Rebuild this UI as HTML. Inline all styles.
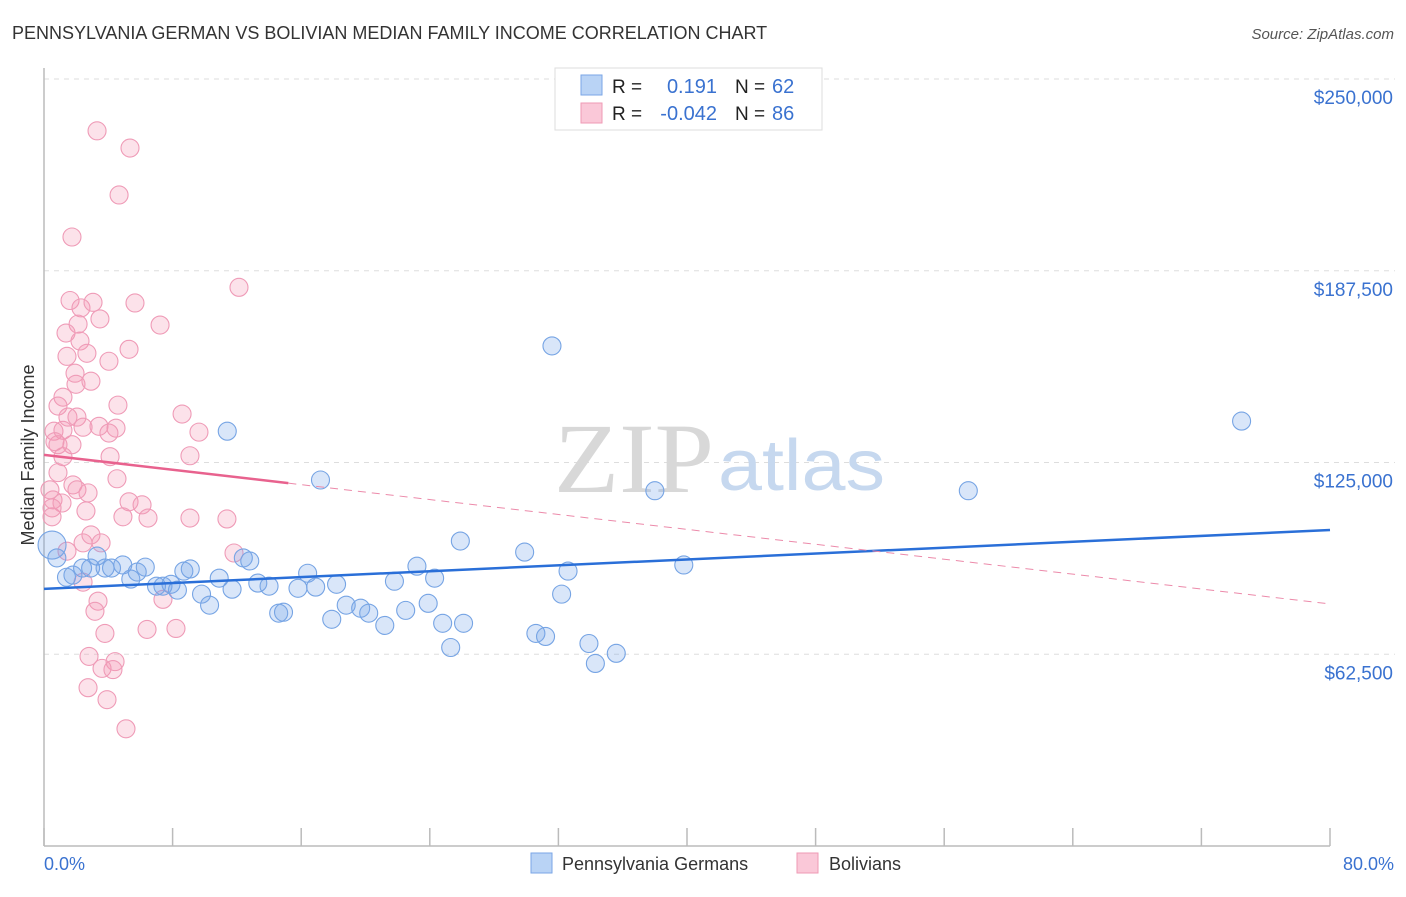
<!DOCTYPE html>
<html><head><meta charset="utf-8"><style>
body{margin:0;background:#fff;font-family:"Liberation Sans",sans-serif;}
</style></head><body>
<svg id="chart" width="1406" height="892" xmlns="http://www.w3.org/2000/svg">
<text x="12" y="39" font-size="18" fill="#333">PENNSYLVANIA GERMAN VS BOLIVIAN MEDIAN FAMILY INCOME CORRELATION CHART</text>
<text x="1394" y="39" font-size="15" fill="#555" font-style="italic" text-anchor="end">Source: ZipAtlas.com</text>
<g id="grid"></g>
<line x1="44" y1="68" x2="44" y2="846" stroke="#bbb" stroke-width="1.5"/>
<line x1="44" y1="846" x2="1330" y2="846" stroke="#bbb" stroke-width="1.5"/>
<text x="554" y="492" font-size="100" fill="#d8d8d8" font-family="Liberation Serif,serif" textLength="160" lengthAdjust="spacingAndGlyphs">ZIP</text>
<text x="718" y="490" font-size="72" fill="#c6d8ef" textLength="167" lengthAdjust="spacingAndGlyphs">atlas</text>
<g id="marks"></g>
<text x="34" y="455" font-size="18" fill="#333" text-anchor="middle" transform="rotate(-90 34 455)">Median Family Income</text>
<text x="44" y="870" font-size="18" fill="#3a72d0">0.0%</text>
<text x="1394" y="870" font-size="18" fill="#3a72d0" text-anchor="end">80.0%</text>
<g>
<rect x="555" y="68" width="267" height="62" fill="#fff" stroke="#ddd"/>
<rect x="581" y="75" width="21" height="20" fill="#b9d3f5" stroke="#7aa6e6"/>
<rect x="581" y="103" width="21" height="20" fill="#fac8d8" stroke="#ef9ab5"/>
<text x="612" y="93" font-size="19" fill="#222">R =</text>
<text x="717" y="93" font-size="20" fill="#3a72d0" text-anchor="end">0.191</text>
<text x="735" y="93" font-size="19" fill="#222">N =</text>
<text x="772" y="93" font-size="20" fill="#3a72d0">62</text>
<text x="612" y="120" font-size="19" fill="#222">R =</text>
<text x="717" y="120" font-size="20" fill="#3a72d0" text-anchor="end">-0.042</text>
<text x="735" y="120" font-size="19" fill="#222">N =</text>
<text x="772" y="120" font-size="20" fill="#3a72d0">86</text>
</g>
<g>
<rect x="531" y="853" width="21" height="20" fill="#b9d3f5" stroke="#7aa6e6"/>
<text x="562" y="870" font-size="18" fill="#333">Pennsylvania Germans</text>
<rect x="797" y="853" width="21" height="20" fill="#fac8d8" stroke="#ef9ab5"/>
<text x="829" y="870" font-size="18" fill="#333">Bolivians</text>
</g>
</svg>
<script>
const yTicks=[62500,125000,187500,250000];
const yTickLabels=["$62,500","$125,000","$187,500","$250,000"];
const xTicks=[0,8,16,24,32,40,48,56,64,72,80];
const blueX=[0.5,0.8,1.4,1.8,2.4,2.9,3.3,3.8,4.2,4.9,5.4,5.8,6.3,7.0,7.4,7.9,8.3,8.7,9.1,9.8,10.3,10.9,11.4,11.7,12.4,12.8,13.3,14.0,14.6,14.9,15.8,16.4,16.9,17.2,17.9,18.2,18.8,19.7,20.2,21.2,21.8,22.5,23.2,23.9,24.3,24.8,25.3,25.9,26.1,29.9,30.6,31.2,31.6,32.2,32.6,33.9,34.3,35.6,38.0,39.8,57.5,74.5];
const blueY=[98.1,93.9,87.6,88.3,90.6,90.6,94.5,90.6,90.6,91.6,87.0,89.3,90.9,84.7,84.7,85.3,83.4,89.6,90.3,82.1,78.5,87.3,135.2,83.7,93.9,92.9,85.7,84.7,75.9,76.2,84.0,88.9,84.4,119.3,73.9,85.3,78.5,77.5,75.9,71.9,86.3,76.8,91.2,79.1,87.3,72.6,64.7,99.4,72.6,95.8,69.3,68.3,163.0,82.1,89.6,66.0,59.5,62.8,115.8,91.6,115.8,138.5];
const pinkX=[3.3,5.35,4.67,1.74,12.13,1.62,2.30,3.05,3.48,2.12,1.37,2.24,1.43,2.67,4.04,5.29,5.66,7.22,1.93,1.99,2.92,1.18,0.87,4.60,8.59,1.49,2.05,2.43,3.42,4.48,9.64,0.62,1.18,4.04,0.68,0.87,1.74,1.18,4.11,9.08,0.87,4.54,0.37,1.80,2.05,2.74,0.56,1.12,0.50,0.50,2.61,5.29,6.10,4.91,6.47,9.08,11.38,1.43,2.43,2.92,3.55,11.82,2.43,7.40,3.36,3.17,3.79,6.41,8.21,2.80,4.42,3.61,4.29,2.74,3.92,5.10];
const pinkY=[233.1,227.5,212.2,198.5,182.1,177.8,175.4,177.2,171.8,170.1,167.2,164.6,159.6,160.6,158.0,161.9,177.0,169.8,154.1,150.5,151.5,146.3,143.4,143.7,140.8,139.8,139.8,136.5,136.8,136.2,134.9,135.2,135.5,134.6,131.8,130.8,130.8,126.9,126.9,127.2,121.7,119.7,116.1,117.7,116.1,115.1,112.8,111.8,110.2,107.3,109.2,112.2,111.2,107.3,106.9,106.9,106.6,96.1,98.8,101.4,98.8,95.5,86.0,80.4,79.8,76.5,69.3,70.6,70.9,61.8,60.1,57.9,57.5,51.6,47.7,38.2];
const blueTrend=[83.8,103.0];
const pinkTrend=[127.5,78.9];
const pinkSolidEnd=15.2;
const NS="http://www.w3.org/2000/svg";
const sx=v=>44+v/80*1286;
const sy=v=>846-v/250*767;
const grid=document.getElementById('grid'),marks=document.getElementById('marks');
function mk(tag,attrs,parent){const e=document.createElementNS(NS,tag);for(const k in attrs)e.setAttribute(k,attrs[k]);parent.appendChild(e);return e;}
yTicks.forEach((t,i)=>{
 const y=sy(t/1000);
 const l=mk('line',{x1:44,x2:1395,y1:y,y2:y,stroke:'#ddd','stroke-dasharray':'5,5'},grid);
 
 
 const tx=mk('text',{x:1393,y:y+25,'font-size':19,fill:'#3a72d0','text-anchor':'end'},grid);
 tx.textContent=yTickLabels[i];
 
 
});
xTicks.forEach(t=>{
 const x=sx(t);
 const l=mk('line',{x1:x,x2:x,y1:828,y2:846,stroke:'#bbb','stroke-width':1.5},grid);
 
 
});
pinkX.forEach((x,i)=>{
 const c=mk('circle',{cx:sx(x),cy:sy(pinkY[i]),r:9,fill:'rgba(244,150,180,0.28)',stroke:'#ef9bb7','stroke-width':1.1},marks);
 
 
});
blueX.forEach((x,i)=>{
 const c=mk('circle',{cx:sx(x),cy:sy(blueY[i]),r:i===0?14:9,fill:'rgba(120,165,235,0.28)',stroke:'#76a4e4','stroke-width':1.1},marks);
 
 
});
const pv=x=>pinkTrend[0]+(pinkTrend[1]-pinkTrend[0])*x/80;
let l=mk('line',{x1:sx(0),y1:sy(blueTrend[0]),x2:sx(80),y2:sy(blueTrend[1]),stroke:'#2a6fd8','stroke-width':2.5},marks);


l=mk('line',{x1:sx(0),y1:sy(pv(0)),x2:sx(pinkSolidEnd),y2:sy(pv(pinkSolidEnd)),stroke:'#e8628e','stroke-width':2.5},marks);


l=mk('line',{x1:sx(pinkSolidEnd),y1:sy(pv(pinkSolidEnd)),x2:sx(80),y2:sy(pv(80)),stroke:'#ec8aaa','stroke-width':1,'stroke-dasharray':'8,6'},marks);


</script>
</body></html>
